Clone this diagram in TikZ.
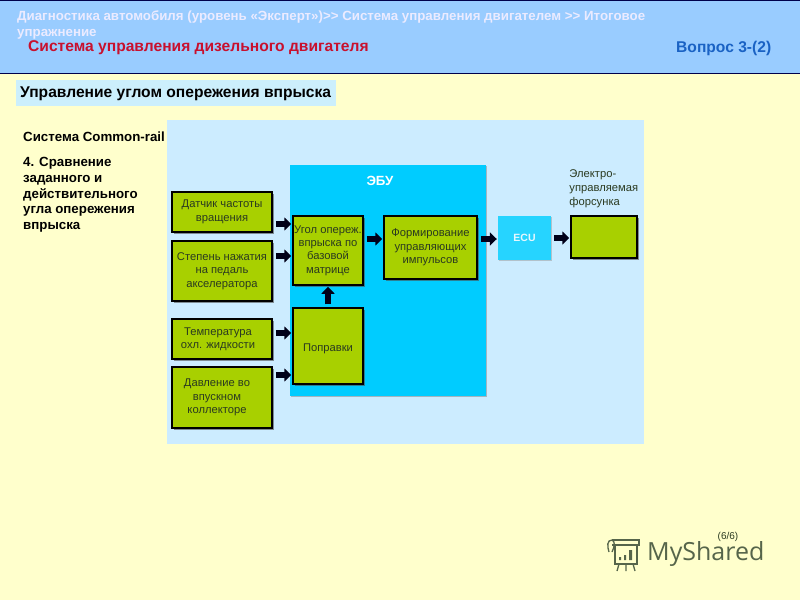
\documentclass[tikz,border=0pt]{standalone}
\usepackage{fontspec}
\setsansfont{Liberation Sans}
\newfontfamily\logofont{Open Sans}
\usetikzlibrary{positioning,arrows.meta,shadows,backgrounds}
\newcommand{\fs}[2]{\fontsize{#1}{#2}\selectfont}
\definecolor{pagebg}{HTML}{FFFFCC}
\definecolor{headblue}{HTML}{99CCFF}
\definecolor{panelblue}{HTML}{CCECFF}
\definecolor{ecucyan}{HTML}{00CCFF}
\definecolor{boxgreen}{HTML}{A8D000}
\definecolor{boxtext}{HTML}{2A3A20}
\definecolor{logogreen}{HTML}{56654A}
\definecolor{topicred}{HTML}{C8102E}
\definecolor{questblue}{HTML}{1A62C4}
\begin{document}
\begin{tikzpicture}[
        x=1pt, y=-1pt,
        font=\sffamily,
        % Styles
        block/.style={rectangle, draw=black, line width=1.5pt, fill=boxgreen, text=boxtext, inner sep=0pt, align=center,
            font=\sffamily\fs{11.2}{13.4}, execute at begin node={\rule{0pt}{13pt}}, drop shadow={shadow xshift=1.5pt, shadow yshift=-1.5pt, fill=black!70, opacity=0.6}},
        panel/.style={rectangle, inner sep=0pt},
        flow/.style={-{Triangle[length=7pt,width=13pt]}, line width=6pt, color=black!90!blue, shorten <=3pt, shorten >=1pt},
        heading/.style={anchor=west, inner sep=0pt, font=\sffamily\bfseries\fs{13.3}{16}},
        note/.style={anchor=north west, inner sep=0pt, align=left},
        logoline/.style={draw=logogreen, line width=1.3pt}
    ]
    \useasboundingbox (0,0) rectangle (800,600);
    \fill[pagebg] (0,0) rectangle (800,600);

    % ================= HEADER =================
    \node[panel, fill=headblue, draw=black!70!blue, line width=1pt, minimum width=802pt, minimum height=73pt] (header) at (400,36.5) {};
    \node[heading, text=white!92!blue, align=left, anchor=north west] (path) at (17,11) {Диагностика автомобиля (уровень «Эксперт»)>{}> Система управления двигателем >{}> Итоговое\\упражнение};
    \node[heading, text=topicred, font=\sffamily\bfseries\fs{15.6}{18}] (topic) at (28,47.5) {Система управления дизельного двигателя};
    \node[heading, text=questblue, font=\sffamily\bfseries\fs{15.6}{18}] (question) at (676,48.5) {Вопрос 3-(2)};
    \node[panel, fill=cyan!20, minimum width=320pt, minimum height=26pt] (subtitle) at (176,93) {};
    \node[heading, text=black, font=\sffamily\bfseries\fs{15.6}{18}] (subtext) at (20,94) {Управление углом опережения впрыска};

    % ================= LEFT NOTES =================
    \node[heading] (system) at (23,137) {Система Common-rail};
    \node[heading, anchor=north west, align=left, font=\sffamily\bfseries\fs{13.3}{15.8}] (item) at (23,157) {4. Сравнение\\заданного и\\действительного\\угла опережения\\впрыска};

    % ================= PANELS =================
    \node[panel, fill=panelblue, minimum width=477pt, minimum height=324pt] (outer) at (405.5,282) {};
    \node[panel, fill=ecucyan, minimum width=196pt, minimum height=231pt, drop shadow={shadow xshift=1pt, shadow yshift=-1pt, fill=black!50, opacity=0.5}] (ebu) at (388,280.5) {};
    \node[text=white, font=\sffamily\bfseries\fs{13.3}{14}] (ebutext) at (380,181) {ЭБУ};

    % ================= BLOCKS =================
    \node[block, minimum width=100pt, minimum height=40pt] (speed) at (222,212) {Датчик частоты\\вращения};
    \node[block, minimum width=100pt, minimum height=60pt] (pedal) at (222,271) {Степень нажатия\\на педаль\\акселератора};
    \node[block, minimum width=100pt, minimum height=40pt] (temp) at (222,339) {\hspace{-8pt}Температура\\\hspace{-8pt}охл. жидкости};
    \node[block, minimum width=100pt, minimum height=61pt] (press) at (222,397.5) {\hspace{-10pt}Давление во\\\hspace{-10pt}впускном\\\hspace{-10pt}коллекторе};
    \node[block, minimum width=70pt, minimum height=69pt] (angle) at (328,250.5) {Угол опереж.\\впрыска по\\базовой\\матрице};
    \node[block, minimum width=70pt, minimum height=76pt] (correct) at (328,346) {Поправки};
    \node[block, minimum width=93pt, minimum height=63pt] (pulse) at (430.5,247.5) {Формирование\\управляющих\\импульсов};
    \node[panel, fill=ecucyan!85!white, minimum width=53pt, minimum height=44pt, text=white!90!cyan, font=\sffamily\bfseries\fs{10.5}{12},
        drop shadow={shadow xshift=1pt, shadow yshift=-1pt, fill=black!40, opacity=0.5}] (ecu) at (524.5,238) {ECU};
    \node[block, minimum width=66pt, minimum height=42pt] (injector) at (604,237) {};
    \node[note, text=boxtext, font=\sffamily\fs{11.2}{14}, above=7pt of injector.north west, anchor=south west, xshift=-1pt] (injtext) {Электро-\\управляемая\\форсунка};

    % ================= ARROWS =================
    \draw[flow] ([yshift=-12pt]speed.east) -- ([yshift=26.5pt]angle.west);
    \draw[flow] ([yshift=15pt]pedal.east) -- ([yshift=-5.5pt]angle.west);
    \draw[flow] ([yshift=6pt]temp.east) -- ([yshift=13pt]correct.west);
    \draw[flow] ([yshift=22.5pt]press.east) -- ([yshift=-29pt]correct.west);
    \draw[flow] (correct.north) -- (angle.south);
    \draw[flow] ([yshift=11.5pt]angle.east) -- ([yshift=8.5pt]pulse.west);
    \draw[flow] ([yshift=8.5pt]pulse.east) -- ([yshift=-1pt]ecu.west);
    \draw[flow] (ecu.east) -- ([yshift=-1pt]injector.west);

    % ================= PAGE NUMBER AND LOGO =================
    \node[text=boxtext, font=\sffamily\fs{10}{12}] (page) at (728,537) {(6/6)};
    \node[anchor=west, inner sep=0pt, text=logogreen, font=\logofont\fs{25}{30}] (logo) at (647,554) {MyShared};
    \draw[logoline] (612,540) -- (639,540) -- (639,545) -- (612,545);
    \draw[logoline] (612,540) .. controls (607,540) and (607,546) .. (609,552);
    \draw[logoline] (612,540) .. controls (615,541) and (615,546) .. (612,552);
    \draw[logoline] (615,545) -- (615,564) -- (637,564) -- (637,545);
    \draw[logoline] (619,564) -- (617,571) (626,564) -- (626,571) (633,564) -- (635,571);
    \fill[logogreen] (619,557) rectangle (621,560) (624,555) rectangle (626,560) (629,550) rectangle (632,560);
\end{tikzpicture}
\end{document}
